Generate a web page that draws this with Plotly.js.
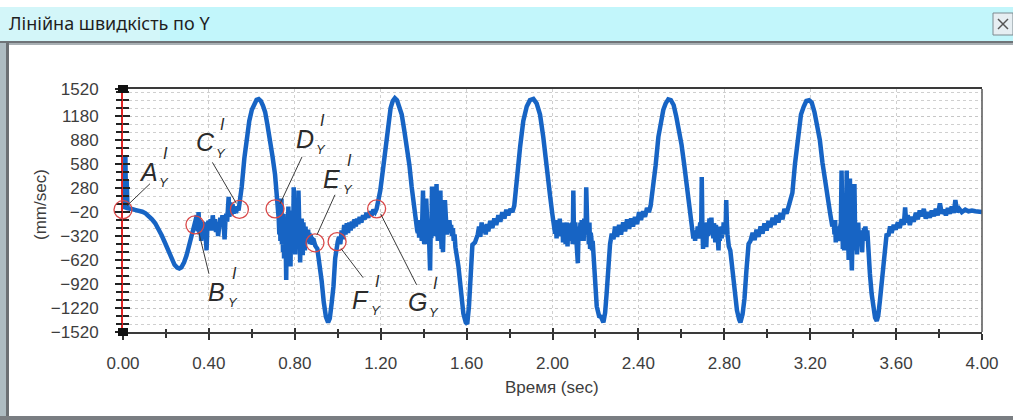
<!DOCTYPE html>
<html><head><meta charset="utf-8">
<script src="https://cdn.plot.ly/plotly-3.0.1.min.js"></script>
<style>html,body{margin:0;padding:0;background:#fff;overflow:hidden}#chart{width:1013px;height:420px}</style>
</head><body><div id="chart"></div>
<script>
// ---- data ----
const timeSec = [
 0.000,0.004,0.008,0.011,0.014,0.017,0.021,0.030,0.045,0.060,0.075,0.090,0.105,0.120,0.135,0.150,0.165,0.180,0.195,0.210,0.225,0.240,0.252,0.262,0.272,0.284,0.296,0.308,0.320,0.330,0.338,
 0.344,0.348,0.352,0.356,0.360,0.364,0.368,0.372,0.377,0.381,0.385,0.389,0.393,0.398,0.403,0.408,0.413,0.418,0.423,0.428,0.433,0.438,0.443,0.448,0.453,0.458,0.463,0.468,0.473,0.477,0.481,0.485,0.489,0.492,0.495,0.500,0.505,0.510,0.515,0.520,0.526,0.532,0.538,
 0.545,0.553,0.565,0.576,0.588,0.600,0.612,0.622,0.632,0.642,0.652,0.662,0.672,0.684,0.696,0.708,0.716,0.723,
 0.725,0.728,0.730,0.733,0.735,0.738,0.740,0.743,0.745,0.748, 0.750,0.753,0.755,0.758,0.760,0.762,0.765,0.767,0.770,0.772,
 0.775,0.777,0.780,0.782,0.785,0.787,0.790,0.792,0.795,0.797, 0.800,0.802,0.805,0.807,0.810,0.812,0.815,0.817,0.820,0.822,
 0.825,0.827,0.830,0.832,0.835,0.837,0.840,0.842,0.845,0.847, 0.850,0.853,0.856,0.859,0.862,0.865,0.868,0.871,0.874,0.877,
 0.880,0.883,0.886,0.889,0.892,0.895,
 0.905,0.915,0.925,0.935,0.945,0.955,0.963,0.972,0.980,0.988,0.994,1.000,
 1.006,1.012,1.018,1.024,1.030,1.036,1.042,1.048,1.054,1.060,1.066,1.072,1.078,1.084,1.090,1.096,1.102,1.110,1.118,1.126,1.134,1.142,1.150,1.158,1.166,1.174,1.181,
 1.190,1.198,1.210,1.222,1.234,1.246,1.256,1.266,1.276,1.288,1.298,1.310,1.322,1.334,1.344,1.352,1.360,1.370,
 1.373,1.376,1.379,1.382,1.385,1.388,1.391,1.394,1.397,1.400, 1.403,1.406,1.409,1.412,1.415,1.418,1.421,1.424,1.427,1.430,
 1.433,1.436,1.439,1.442,1.445,1.448,1.451,1.454,1.457,1.460, 1.463,1.466,1.469,1.472,1.475,1.478,1.481,1.484,1.487,1.490,
 1.493,1.496,1.499,1.502,1.505,1.508,1.512,1.516,1.520,1.524, 1.528,1.532,1.536,1.540,1.544,1.548,
 1.562,1.574,1.585,1.596,1.603,1.611,1.619,1.627,1.639,1.652,
 1.658,1.664,1.670,1.677,1.683,1.689,1.695,1.701,1.710,1.720,1.729,1.738,1.748,1.757,1.766,1.776,1.785,1.794,1.804,1.813,1.822,
 1.833,1.849,1.864,1.880,1.895,1.911,1.926,1.942,1.957,1.973,1.988,1.999,2.012,
 2.016,2.019,2.022,2.025,2.028,2.031,2.034,2.037,2.040,2.043, 2.046,2.049,2.052,2.055,2.058,2.061,2.064,2.067,2.070,2.073,
 2.076,2.079,2.082,2.085,2.088,2.091,2.094,2.097,2.100,2.103, 2.106,2.109,2.112,2.115,2.118,2.121,2.124,2.127,2.130,2.133,
 2.136,2.139,2.142,2.145,2.148,2.151,2.154,2.157,2.160,2.163, 2.166,2.169,2.172,2.175,2.178,2.181,2.184,2.187,2.190,
 2.198,2.206,2.217,2.226,2.237,2.245,2.252,2.260,2.268,2.276,
 2.284,2.291,2.301,2.310,2.319,2.329,2.338,2.347,2.357,2.366,2.375,2.384,2.394,2.403,2.412,2.422,2.431,2.440,2.449,2.457,
 2.470,2.480,2.493,2.505,2.516,2.527,2.539,2.551,2.564,2.576,2.588,2.601,2.613,2.626,2.638,2.650,
 2.656,2.660,2.664,2.668,2.672,2.676,2.680,2.684,2.688,2.692, 2.695,2.698,2.701,2.704,2.707,2.710,2.713,2.716,2.719,2.722,
 2.725,2.728,2.731,2.734,2.737,2.740,2.743,2.746,2.749,2.752, 2.755,2.758,2.761,2.764,2.767,2.770,2.773,2.776,2.779,2.782,
 2.785,2.788,2.791,2.794,2.797,2.800,2.803,2.806,2.809,2.812, 2.815,2.818,2.821,
 2.828,2.838,2.850,2.859,2.869,2.875,2.885,2.894,2.903,2.913,
 2.922,2.932,2.941,2.950,2.959,2.969,2.978,2.987,2.997,3.006,3.015,3.025,3.034,3.043,3.052,3.062,3.071,3.080,3.090,3.099,3.106,
 3.117,3.129,3.145,3.157,3.170,3.182,3.195,3.207,3.220,3.232,3.245,3.257,3.270,3.282,3.293,3.303,
 3.310,3.313,3.316,3.319,3.322,3.325,3.328,3.331,3.334,3.337, 3.340,3.343,3.346,3.349,3.352,3.355,3.358,3.361,3.364,3.367,
 3.370,3.373,3.376,3.379,3.382,3.385,3.388,3.391,3.394,3.397, 3.400,3.403,3.406,3.409,3.412,3.415,3.418,3.421,3.424,3.427,
 3.430,3.433,3.436,3.439,3.442,3.445,3.448,3.451,3.454,3.457, 3.460,3.463,3.466,3.469,3.472,
 3.478,3.486,3.494,3.502,3.510,3.517,3.525,3.533,3.541,3.548,3.556,
 3.564,3.572,3.579,3.589,3.598,3.608,3.617,3.626,3.636,3.642,3.647,3.654,3.664,3.673,3.682,3.692,3.701,3.710,3.720,3.729,3.738,3.748,3.757,3.766,3.776,3.785,3.794,3.804,3.813,3.822,3.832,3.841,3.850,3.859,3.869,3.876,3.884,3.894,3.906,3.922,3.937,3.953,3.969,3.984,4.000
];
const velocityMmSec = [
 20,40,80,690,60,380,30,20,15,5,0,-15,-35,-70,-110,-160,-230,-310,-400,-500,-600,-680,-715,-725,-710,-650,-560,-440,-320,-230,-170,
 -60,-260,-20,-300,-120,-380,-180,-140,-260,-150,-320,-500,-200,-130,-230,-110,-250,-60,-200,-110,-270,-150,-320,-170,-90,-200,-60,-160,-360,-120,-40,-140,60,170,-80,100,-60,80,-40,50,-30,40,0,
 120,300,650,920,1120,1260,1340,1385,1395,1370,1310,1230,1080,900,680,450,250,40,
 -100,-300,80,-380,-50,150,-420,-150,-520,-40, -600,-250,-80,-500,-870,-300,-150,-480,50,-300,
 -560,-150,-700,-250,0,-450,-200,-380,290,-100, -320,-550,-80,-450,120,-300,-420,250,-150,-380,
 -650,-200,-480,-100,-350,-560,-150,-420,-250,-500, -200,-400,-260,-380,-240,-360,-280,-420,-300,-380,
 -330,-430,-350,-410,-370,-440,
 -480,-650,-880,-1150,-1330,-1400,-1350,-1150,-950,-600,-420,-390,
 -330,-420,-250,-360,-180,-300,-160,-280,-150,-250,-140,-220,-110,-200,-100,-170,-80,-150,-60,-110,-30,-90,-10,-60,10,-20,20,
 120,250,500,800,1080,1280,1370,1405,1380,1300,1200,1000,800,560,300,100,-120,-250,
 -280,-180,-340,-120,-300,-200,-380,-150,250,-350, -420,-100,-250,150,-300,-180,-420,-250,-600,-750,
 -200,-350,300,-150,-280,-100,-320,-200,-120,330, -150,-380,-200,-300,-150,250,-320,-480,-250,-520,
 -180,-300,130,-200,-120,-300,-200,-280,-120,-260, -180,-320,-220,-380,-300,-460,
 -700,-1050,-1290,-1400,-1420,-1200,-800,-430,-400,-300,
 -200,-330,-150,-280,-180,-300,-170,-260,-130,-220,-100,-180,-60,-140,-20,-100,10,-60,20,-20,60,
 380,790,1120,1300,1380,1395,1340,1200,920,500,200,-40,-290,
 -200,-350,-120,-300,-180,-260,-100,-320,-220,-280, -150,-400,-200,-350,-180,-420,-250,-150,-450,-200,
 -300,-160,-380,-250,-320,-150,-420,250,-300,-400, -150,-300,-250,-500,-660,-300,-200,-380,-150,-320,
 -120,-280,-200,-380,-100,-250,-300,290,-150,-300, -200,-420,-150,-480,-280,-350,-500,-380,-520,
 -870,-1200,-1320,-1330,-1400,-1280,-1040,-620,-420,-290,
 -360,-200,-330,-180,-300,-150,-260,-110,-230,-100,-200,-80,-170,-20,-120,-10,-80,30,-20,60,
 290,560,920,1150,1260,1340,1390,1380,1320,1180,1030,820,580,300,20,-300,
 -350,-250,-380,-260,-330,-200,-350,-250,-150,-300, 420,-200,-480,-300,-150,-350,-200,-460,-250,-150,
 -320,-200,-100,-300,-220,-90,-280,-180,-350,-160, -250,-400,-180,-300,-220,-420,-500,-250,-380,-200,
 -300,-350,-200,-300,-150,-280,-200,-250,130,-150, -300,-400,-450,
 -500,-750,-1040,-1250,-1360,-1400,-1300,-1100,-750,-420,
 -380,-280,-370,-240,-330,-200,-290,-160,-250,-130,-210,-90,-180,-60,-150,-30,-110,20,-40,60,80,
 220,580,1000,1200,1300,1370,1380,1350,1230,1080,880,600,330,150,-40,-200,
 -150,-300,-120,-400,-220,-350,-200,-300,-250,-380, -200,-150,500,-300,-480,-200,-500,100,-350,-200,
 500,-400,-250,-620,-300,400,-200,-450,-750,-300, -200,-500,330,-250,-400,-300,-550,-200,-150,-420,
 -300,-400,-250,-350,-520,-280,-300,-220,-350,-200, -300,-380,-250,-420,-480,
 -790,-1040,-1250,-1340,-1380,-1310,-1120,-880,-660,-420,-290,
 -320,-200,-280,-180,-240,-150,-220,-110,-180,40,-150,-60,-180,-80,-140,-30,-110,0,-70,20,-100,-20,-90,0,-70,20,-60,90,-40,10,-60,30,-40,50,-30,130,-20,20,-20,10,-10,0,-10,-20,-20
];
const yTickVals = [-1520,-1220,-920,-620,-320,-20,280,580,880,1180,1520];
const xTickVals = [0,0.4,0.8,1.2,1.6,2.0,2.4,2.8,3.2,3.6,4.0];
const xTickText = ['0.00','0.40','0.80','1.20','1.60','2.00','2.40','2.80','3.20','3.60','4.00'];
const keyLabels = ['A','B','C','D','E','F','G'];
const keyTimes  = [0.000,0.335,0.542,0.708,0.894,0.997,1.181];
const keyValues = [10,-179,14,21,-404,-390,21];

if (timeSec.length !== velocityMmSec.length) console.error('length mismatch', timeSec.length, velocityMmSec.length);

// ---- layout helpers (pixel placement of decorations) ----
const W = 1013, H = 420, ML = 123, MR = 31, MT = 89, MB = 88;
const PW = W - ML - MR, PH = H - MT - MB;
const pxX = px => (px - ML) / PW;
const pxY = py => (H - MB - py) / PH;
function rectPx(x0, y0, x1, y1, fill, lineColor, lw) {
  return {type:'rect', xref:'paper', yref:'paper', x0:pxX(x0), x1:pxX(x1), y0:pxY(y1), y1:pxY(y0),
          fillcolor:fill, line:{color:lineColor||'rgba(0,0,0,0)', width:lw||0}, layer:'below'};
}
function linePx(x0, y0, x1, y1, color, lw) {
  return {type:'line', xref:'paper', yref:'paper', x0:pxX(x0), x1:pxX(x1), y0:pxY(y0), y1:pxY(y1),
          line:{color:color, width:lw}, layer:'below'};
}

// label offsets in pixels (letter centre) relative to each marked point (right/down positive)
const letterOff = [[25,-38],[22,67],[-34,-67],[30,-70],[17,-64],[23,58],[41,93]];
const leadOff   = [[4,-4,27,-26],[4,8,14,49],[-3,-6,-27,-47],[5,-5,27,-52],[2,-8,20,-48],[4,7,26,36],[4,5,40,76]];

const shapes = [
  rectPx(0, 7, W, 41, '#c2f6fb'),
  rectPx(0, 7, 160, 41, '#d3f6f9'),
  rectPx(0, 41, W, 43, '#6f7478'),
  rectPx(0, 43, W, 45, '#a9b0b4'),
  rectPx(0, 43, 6, H, '#aebcc2'),
  rectPx(6, 43, 9, H, '#6c7074'),
  rectPx(0, 416, W, H, '#7a7e82'),
  rectPx(993, 13, 1013, 35, '#e6eef2', '#7d8a90', 1),
  linePx(998, 19, 1008, 29, '#555', 1.5),
  linePx(998, 29, 1008, 19, '#555', 1.5),
  {type:'line', xref:'paper', yref:'paper', x0:1, x1:1, y0:0, y1:1, line:{color:'#555', width:1.5}},
  {type:'rect', xref:'paper', yref:'paper', xsizemode:'pixel', ysizemode:'pixel', xanchor:0, yanchor:1,
   x0:-5, x1:5, y0:-4, y1:4, fillcolor:'#111', line:{width:0}},
  {type:'rect', xref:'paper', yref:'paper', xsizemode:'pixel', ysizemode:'pixel', xanchor:0, yanchor:0,
   x0:-5, x1:5, y0:-4, y1:4, fillcolor:'#111', line:{width:0}}
];
const lblFamily = 'Liberation Sans, Arial, sans-serif';
const annotations = [
  {xref:'paper', yref:'paper', x:pxX(40), y:pxY(205), text:'(mm/sec)', textangle:-90, showarrow:false,
   xanchor:'center', yanchor:'middle', font:{family:lblFamily, size:17, color:'#3d3d3d'}},
  {xref:'paper', yref:'paper', x:pxX(552), y:pxY(387), text:'Время (sec)', showarrow:false,
   xanchor:'center', yanchor:'middle', font:{family:lblFamily, size:17, color:'#3d3d3d'}}
];
keyLabels.forEach((L, i) => {
  const ax = keyTimes[i] / 4, ay = (keyValues[i] + 1520) / 3040;
  shapes.push({type:'circle', xref:'paper', yref:'paper', xsizemode:'pixel', ysizemode:'pixel',
    xanchor:ax, yanchor:ay, x0:-9, x1:9, y0:-9, y1:9, line:{color:'#d94848', width:1.3}, fillcolor:'rgba(0,0,0,0)'});
  const lo = leadOff[i];
  shapes.push({type:'line', xref:'paper', yref:'paper', xsizemode:'pixel', ysizemode:'pixel',
    xanchor:ax, yanchor:ay, x0:lo[0], y0:-lo[1], x1:lo[2], y1:-lo[3], line:{color:'#3a3a3a', width:1}});
  const base = {xref:'x', yref:'y', x:keyTimes[i], y:keyValues[i], showarrow:false, borderpad:0, yanchor:'middle'};
  const [dx, dy] = letterOff[i];
  annotations.push(Object.assign({}, base, {text:'<i>' + L + '</i>', xanchor:'center', xshift:dx, yshift:-dy,
    font:{family:lblFamily, size:25, color:'#2b2b2b'}}));
  annotations.push(Object.assign({}, base, {text:'<i>Y</i>', xanchor:'left', xshift:dx + 10, yshift:-(dy + 11),
    font:{family:lblFamily, size:13, color:'#2b2b2b'}}));
  annotations.push(Object.assign({}, base, {text:'<i>I</i>', xanchor:'left', xshift:dx + 14, yshift:-(dy - 18),
    font:{family:lblFamily, size:16, color:'#2b2b2b'}}));
});

const tickFont = {family:lblFamily, size:17, color:'#3d3d3d'};

const traces = [
  {x:timeSec, y:velocityMmSec, type:'scatter', mode:'lines', line:{color:'#1764c4', width:4.5, shape:'linear'},
   hoverinfo:'skip', showlegend:false},
  {x:[], y:[], xaxis:'x2', yaxis:'y2', type:'scatter', mode:'lines', showlegend:false},
  {x:[], y:[], xaxis:'x', yaxis:'y3', type:'scatter', mode:'lines', showlegend:false}
];

const layout = {
  width:W, height:H, margin:{l:ML, r:MR, t:MT, b:MB},
  paper_bgcolor:'#ffffff', plot_bgcolor:'rgba(0,0,0,0)', showlegend:false,
  title:{text:'Лінійна швидкість по Y', xref:'container', yref:'container', x:9/W, xanchor:'left',
         y:1-24/H, yanchor:'middle', font:{family:'Noto Sans, Liberation Sans, sans-serif', size:18, color:'#1f1f1f'}},
  xaxis:{range:[0,4], showline:true, linecolor:'#3a3a3a', linewidth:2, mirror:true,
    ticks:'outside', ticklen:6, tickwidth:2, tickcolor:'#333', tickvals:xTickVals, ticktext:xTickText,
    tickfont:tickFont, ticklabelstandoff:9,
    showgrid:true, gridcolor:'#cfcfcf', gridwidth:1, griddash:'dot', zeroline:false,
    minor:{tick0:0, dtick:0.2, ticks:'outside', ticklen:4, tickwidth:2, tickcolor:'#333', showgrid:false}},
  yaxis:{range:[-1520,1520], showline:true, linecolor:'#e02424', linewidth:2,
    ticks:'outside', ticklen:19, tickwidth:1, tickcolor:'rgba(0,0,0,0)', tickvals:yTickVals,
    tickfont:tickFont,
    showgrid:true, gridcolor:'#c6c6c6', gridwidth:1, griddash:'dot', zeroline:false,
    minor:{tick0:-20, dtick:100, ticks:'', showgrid:true, gridcolor:'#cfcfcf', gridwidth:1, griddash:'dot'}},
  xaxis2:{overlaying:'x', anchor:'y', side:'bottom', range:[0,4], showline:false, showgrid:false, zeroline:false,
    showticklabels:false, ticks:'inside', ticklen:4, tickwidth:2, tickcolor:'#333', tickvals:xTickVals,
    minor:{tick0:0, dtick:0.2, ticks:'inside', ticklen:3, tickwidth:2, tickcolor:'#333'}},
  yaxis2:{overlaying:'y', anchor:'x', side:'left', range:[-1520,1520], showline:false, showgrid:false, zeroline:false,
    showticklabels:false, ticks:'inside', ticklen:7, tickwidth:2, tickcolor:'#222', tickvals:yTickVals,
    minor:{tick0:-20, dtick:100, ticks:'inside', ticklen:6, tickwidth:1.5, tickcolor:'#222'}},
  yaxis3:{overlaying:'y', anchor:'x', side:'left', range:[-1520,1520], showline:false, showgrid:false, zeroline:false,
    showticklabels:false, ticks:'outside', ticklen:7, tickwidth:2, tickcolor:'#222', tickvals:yTickVals,
    minor:{tick0:-20, dtick:100, ticks:'outside', ticklen:6, tickwidth:1.5, tickcolor:'#222'}},
  shapes:shapes, annotations:annotations
};

Plotly.newPlot('chart', traces, layout, {staticPlot:true, displayModeBar:false});
</script></body></html>
